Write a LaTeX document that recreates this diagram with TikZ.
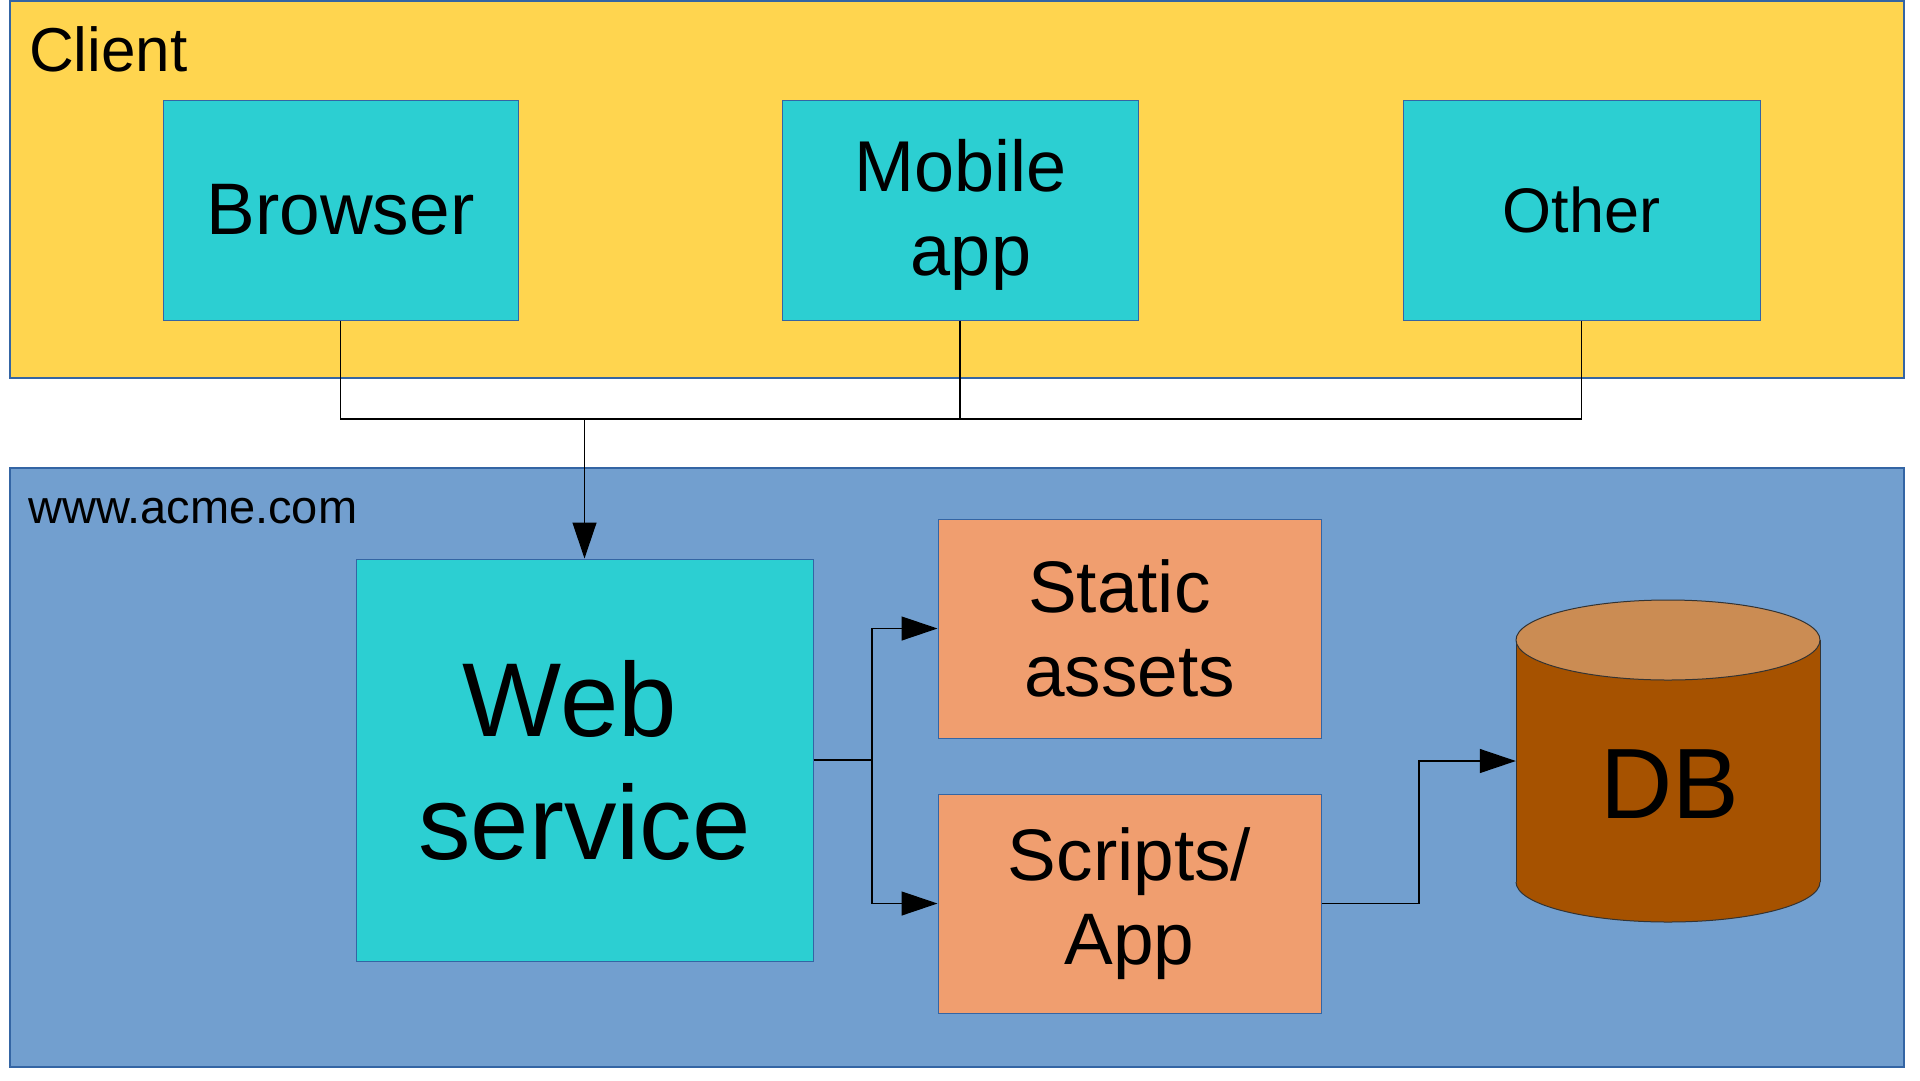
\documentclass[tikz,border=0pt]{standalone}
\usepackage{fontspec}
\setmainfont{Liberation Sans}
\usetikzlibrary{arrows.meta}
\definecolor{clientyellow}{HTML}{FFD54F}
\definecolor{boxcyan}{HTML}{2CCFD2}
\definecolor{siteblue}{HTML}{729FCF}
\definecolor{boxorange}{HTML}{F09E6F}
\definecolor{dbtopc}{HTML}{CB8C53}
\definecolor{dbbodyc}{HTML}{A65200}
\definecolor{bordc}{HTML}{3465A4}
\tikzset{
  region/.style={rectangle, draw=bordc, line width=1.2pt, inner sep=0pt},
  box/.style={rectangle, draw=bordc, line width=1pt, inner sep=0pt, align=center, text=black},
  cyanbox/.style={box, fill=boxcyan},
  orangebox/.style={box, fill=boxorange},
  lbl/.style={inner sep=0pt, anchor=base west, text=black},
  conn/.style={draw=black, line width=1.3pt},
  arr/.style={conn, -{Triangle[length=36pt,width=24pt]}},
  dbline/.style={draw=black!80, line width=1pt}
}
\begin{document}
\begin{tikzpicture}[x=1pt,y=-1pt]
\useasboundingbox (0,0) rectangle (1920,1080);
\fill[white] (0,0) rectangle (1920,1080);
% regions
\node[region, fill=clientyellow, minimum width=1894pt, minimum height=377pt] (client) at (957,189.5) {};
\node[region, fill=siteblue, minimum width=1894pt, minimum height=599pt] (site) at (957,767.5) {};
\node[lbl, font=\fontsize{62}{71}\selectfont] (clientlbl) at (29,71) {Client};
\node[lbl, font=\fontsize{47}{54}\selectfont] (sitelbl) at (28,523) {www.acme.com};
% client boxes
\node[cyanbox, minimum width=355pt, minimum height=220pt, font=\fontsize{73}{84}\selectfont] (browser) at (340.5,210) {Browser};
\node[cyanbox, minimum width=356pt, minimum height=220pt, font=\fontsize{72}{84}\selectfont] (mobile) at (960,210) {};
\node[inner sep=0pt, align=center, font=\fontsize{72}{84}\selectfont] (mobiletxt) at (971,215) {Mobile\kern0.278em\\app};
\node[cyanbox, minimum width=357pt, minimum height=220pt, font=\fontsize{63}{72}\selectfont] (other) at (1581.5,210) {Other};
% site boxes
\node[cyanbox, minimum width=457pt, minimum height=402pt, font=\fontsize{105}{123}\selectfont] (web) at (584.5,760) {Web\kern0.278em\\service};
\node[orangebox, minimum width=383pt, minimum height=219pt, font=\fontsize{73}{84}\selectfont] (static) at (1129.5,628.5) {Static\kern0.278em\\assets};
\node[orangebox, minimum width=383pt, minimum height=219pt, font=\fontsize{73}{84}\selectfont] (scripts) at (1129.5,903.5) {Scripts/\\App};
% database cylinder
\node[inner sep=0pt, minimum width=304pt, minimum height=242pt] (db) at (1668,761) {};
\fill[dbbodyc] (1516,640) rectangle (1820,882);
\fill[dbbodyc] (1668,882) ellipse [x radius=152, y radius=40];
\begin{scope}
  \clip (1500,882) rectangle (1840,940);
  \draw[dbline] (1668,882) ellipse [x radius=152, y radius=40];
\end{scope}
\draw[dbline] (1516,640) -- (1516,882) (1820,640) -- (1820,882);
\filldraw[fill=dbtopc, dbline] (1668,640) ellipse [x radius=152, y radius=40];
\node[inner sep=0pt, anchor=base, font=\fontsize{100}{115}\selectfont] (dblbl) at (1670,818) {DB};
% connectors
\coordinate (bus) at (584.5,419);
\draw[conn] (browser.south) |- (bus) -| (other.south);
\draw[conn] (mobile.south) -- (mobile.south |- bus);
\draw[arr] (bus) -- (web.north);
\coordinate (split) at (872,760);
\draw[conn] (web.east) -- (split);
\draw[arr] (split) |- (static.west);
\draw[arr] (split) |- (scripts.west);
\coordinate (join) at (1419,0);
\draw[arr] (scripts.east) -- (scripts.east -| join) |- (db.west);
\end{tikzpicture}
\end{document}
